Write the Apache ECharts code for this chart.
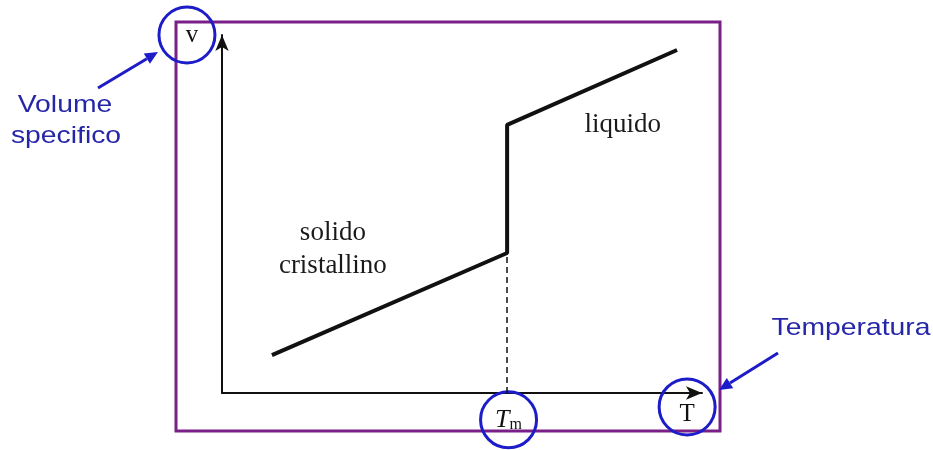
<!DOCTYPE html>
<html>
<head>
<meta charset="utf-8">
<script src="https://cdn.jsdelivr.net/npm/echarts@6/dist/echarts.min.js"></script>
<style>
  html, body { margin: 0; padding: 0; background: #fff; }
  #main { width: 933px; height: 450px; }
</style>
</head>
<body>
<div id="main"></div>
<script>
// curva volume specifico / temperatura (unita arbitrarie)
var tempX = [10.4, 59.4, 59.4, 94.8];
var volY = [10.6, 39.1, 74.9, 95.8];
var meltT = 59.4;      // Tm
var meltV = 39.1;
var axisLabels = ['v', 'T'];

var blue = '#1c1cc8';
var txtBlue = '#2626a8';
var serif = 'Liberation Serif';

var myChart = echarts.init(document.getElementById('main'));

var curve = tempX.map(function (x, i) { return [x, volY[i]]; });

// frecce blu (annotazioni)
function arrow(x1, y1, x2, y2) {
    var a = Math.atan2(y2 - y1, x2 - x1);
    var len = 13, w = 6;
    var bx = x2 - len * Math.cos(a), by = y2 - len * Math.sin(a);
    var px = -Math.sin(a) * w, py = Math.cos(a) * w;
    return [
        { type: 'line', shape: { x1: x1, y1: y1, x2: bx, y2: by },
          style: { stroke: blue, lineWidth: 3 } },
        { type: 'polygon', shape: { points: [[x2, y2], [bx + px, by + py], [bx - px, by - py]] },
          style: { fill: blue } }
    ];
}

function note(txt, x, y) {
    return { type: 'text', x: x, y: y, scaleX: 1.18,
        style: { text: txt, font: '24px "Liberation Sans"', fill: txtBlue, align: 'center', verticalAlign: 'middle' } };
}

var graphics = [
    { type: 'rect', shape: { x: 176, y: 22, width: 544, height: 409 },
      style: { fill: 'none', stroke: '#7a1e88', lineWidth: 3 } },
    note('Volume', 65, 105),
    note('specifico', 66, 136),
    note('Temperatura', 851, 328)
].concat(arrow(98, 88, 158, 52)).concat(arrow(778, 353, 719, 390));

option = {
    animation: false,
    grid: { left: 222, top: 35, width: 480, height: 358, containLabel: false },
    xAxis: {
        type: 'value', min: 0, max: 100,
        splitLine: { show: false }, axisTick: { show: false }, axisLabel: { show: false },
        axisLine: { lineStyle: { color: '#111', width: 2 }, symbol: ['none', 'arrow'], symbolSize: [10, 16] }
    },
    yAxis: {
        type: 'value', min: 0, max: 100,
        splitLine: { show: false }, axisTick: { show: false }, axisLabel: { show: false },
        axisLine: { lineStyle: { color: '#111', width: 2 }, symbol: ['none', 'arrow'], symbolSize: [10, 16] }
    },
    graphic: graphics,
    series: [
        {
            type: 'line',
            data: curve,
            showSymbol: false,
            lineStyle: { color: '#111', width: 4 },
            markLine: {
                silent: true,
                symbol: 'none',
                label: { show: false },
                lineStyle: { color: '#111', width: 1.5, type: [6, 4] },
                data: [[{ coord: [meltT, 0] }, { coord: [meltT, meltV] }]]
            }
        },
        {
            type: 'scatter',
            clip: false,
            symbolSize: 0,
            itemStyle: { opacity: 1 },
            label: {
                show: true, position: 'inside', color: '#1a1a1a',
                fontFamily: serif, fontSize: 27, lineHeight: 33,
                formatter: function (p) { return p.value[2]; }
            },
            data: [
                [23.1, 40.2, 'solido\ncristallino'],
                [83.5, 74.9, 'liquido']
            ]
        },
        {
            type: 'scatter',
            clip: false,
            symbol: 'circle',
            symbolSize: 56,
            itemStyle: { color: 'none', borderColor: blue, borderWidth: 3, opacity: 1 },
            label: {
                show: true, position: 'inside', color: '#111',
                fontFamily: serif, fontSize: 25,
                formatter: function (p) { return p.value[2]; },
                rich: {
                    i: { fontFamily: serif, fontStyle: 'italic', fontSize: 26, color: '#111' },
                    s: { fontFamily: serif, fontSize: 16, color: '#111', padding: [10, 0, 0, 0] }
                }
            },
            data: [
                { value: [-7.3, 100, axisLabels[0]], label: { offset: [5, 0] } },
                { value: [meltT + 0.3, -7.5, '{i|T}{s|m}'] },
                { value: [96.9, -3.9, axisLabels[1]], label: { offset: [0, 7] } }
            ]
        }
    ]
};

if (option && typeof option === "object") {
    myChart.setOption(option, true);
}
</script>
</body>
</html>
